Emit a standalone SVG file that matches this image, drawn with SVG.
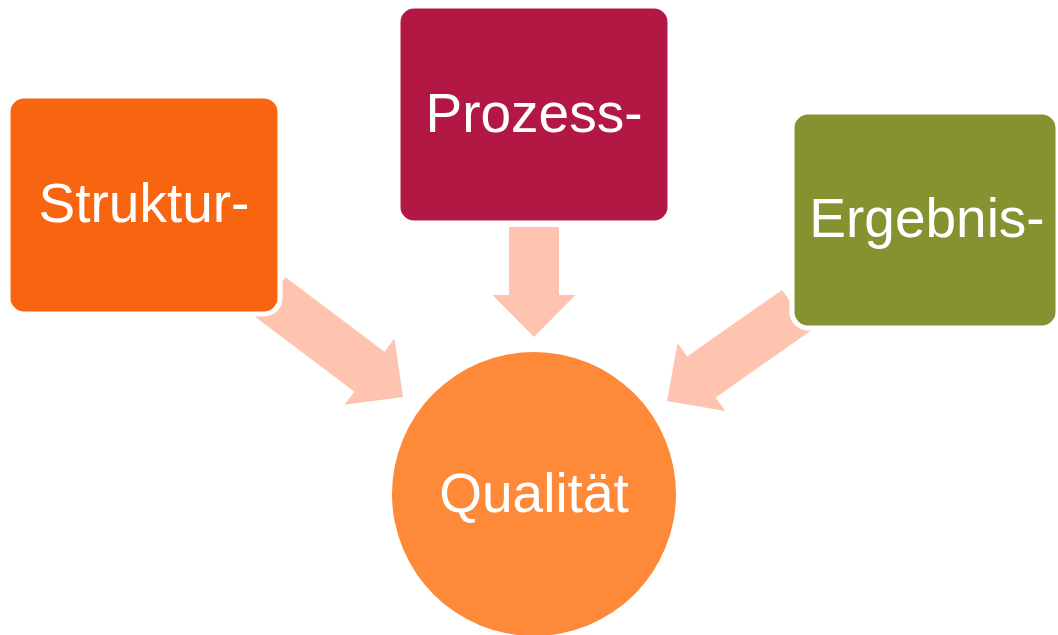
<svg xmlns="http://www.w3.org/2000/svg" width="1058" height="635" viewBox="0 0 1058 635">
<style>
.arrow{fill:#FEC4B0}
.box{stroke:#FFFFFF;stroke-width:5}
.lbl{font-family:"Liberation Sans",Arial,sans-serif;font-size:55px;fill:#FFFFFF;text-anchor:middle}
</style>
<rect width="1058" height="635" fill="#FFFFFF"/>
<g id="connectors">
<polygon class="arrow" transform="translate(403,397) rotate(37)" points="-166,-25 -42,-25 -42,-41.5 0,0 -42,41.5 -42,25 -166,25"/>
<polygon class="arrow" transform="translate(534,337) rotate(90)" points="-110,-25 -42,-25 -42,-41.5 0,0 -42,41.5 -42,25 -110,25"/>
<polygon class="arrow" transform="translate(667,401) rotate(145)" points="-158,-25 -42,-25 -42,-41.5 0,0 -42,41.5 -42,25 -158,25"/>
</g>
<g id="struktur">
<rect class="box" x="8" y="96" width="272" height="218" rx="16" fill="#F76511"/>
<text class="lbl" x="144" y="222">Struktur-</text>
</g>
<g id="prozess">
<rect class="box" x="398" y="6" width="272" height="217" rx="16" fill="#B31844"/>
<text class="lbl" x="534" y="132">Prozess-</text>
</g>
<g id="ergebnis">
<rect class="box" x="792" y="112" width="266" height="216" rx="16" fill="#869230"/>
<text class="lbl" x="927" y="237">Ergebnis-</text>
</g>
<g id="qualitaet">
<circle cx="534" cy="494" r="142" fill="#FD8939"/>
<text class="lbl" x="534" y="512">Qualität</text>
</g>
</svg>
